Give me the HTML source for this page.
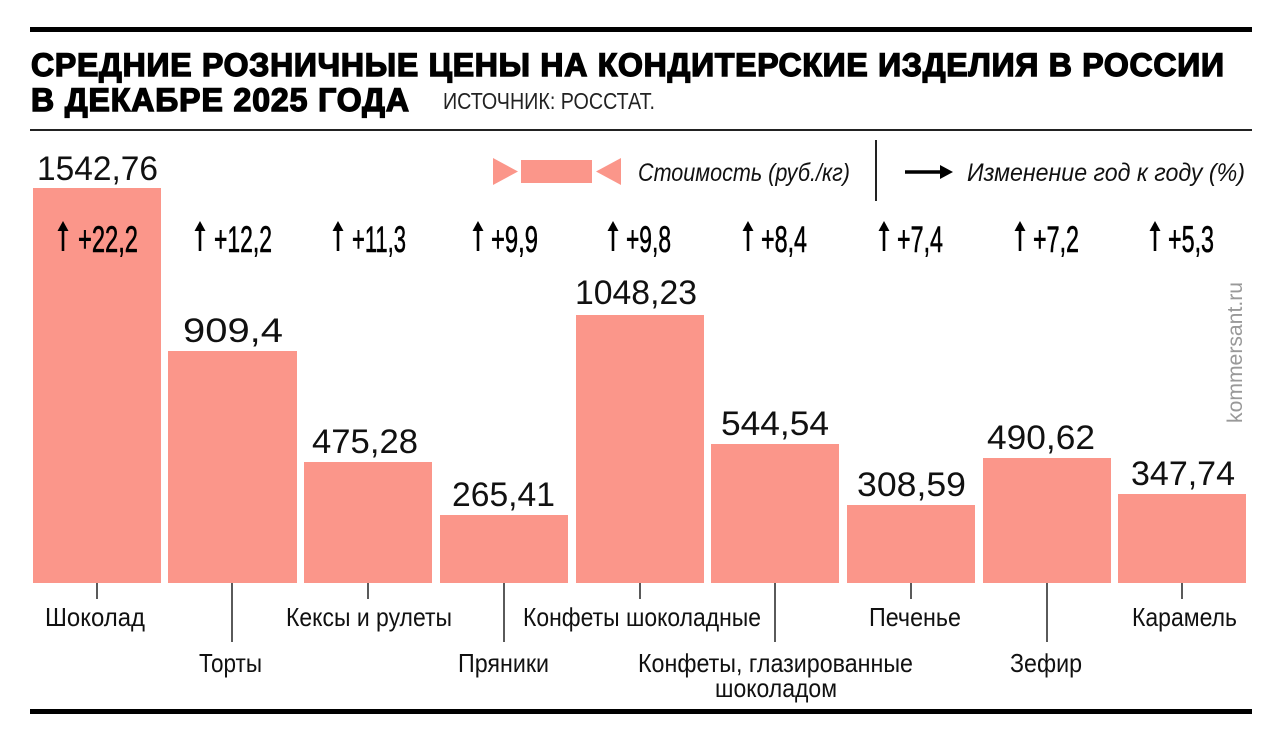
<!DOCTYPE html>
<html><head><meta charset="utf-8"><style>
html,body{margin:0;padding:0;background:#fff;}
svg{display:block}
.n{font-family:"Liberation Sans Narrow","Liberation Sans",sans-serif;}
.s{font-family:"Liberation Sans",sans-serif;}
</style></head><body>
<svg width="1280" height="742" viewBox="0 0 1280 742" xmlns="http://www.w3.org/2000/svg">
<rect x="30" y="27" width="1222" height="5" fill="#000"/>
<text class="s" x="31" y="76" font-size="32" font-weight="bold" stroke="#000" stroke-width="1.4" textLength="1193" lengthAdjust="spacing">СРЕДНИЕ РОЗНИЧНЫЕ ЦЕНЫ НА КОНДИТЕРСКИЕ ИЗДЕЛИЯ В РОССИИ</text>
<text class="s" x="31" y="111" font-size="32" font-weight="bold" stroke="#000" stroke-width="1.4" textLength="378" lengthAdjust="spacing">В ДЕКАБРЕ 2025 ГОДА</text>
<text class="n" x="443" y="109" font-size="23" fill="#222" textLength="212" lengthAdjust="spacingAndGlyphs">ИСТОЧНИК: РОССТАТ.</text>
<rect x="30" y="129" width="1222" height="2" fill="#222"/>

<polygon points="493,158 518,171.5 493,185" fill="#fb968a"/>
<rect x="521" y="160" width="71" height="23" fill="#fb968a"/>
<polygon points="621,158 596,171.5 621,185" fill="#fb968a"/>
<text class="n" x="638" y="181" font-size="25" font-style="italic" fill="#111" textLength="212" lengthAdjust="spacingAndGlyphs">Стоимость (руб./кг)</text>
<rect x="875" y="140" width="2" height="61" fill="#222"/>
<line x1="905" y1="172" x2="944" y2="172" stroke="#000" stroke-width="3.5"/>
<polygon points="940,165 953,172 940,179" fill="#000"/>
<text class="n" x="967" y="181" font-size="25" font-style="italic" fill="#111" textLength="278" lengthAdjust="spacingAndGlyphs">Изменение год к году (%)</text>

<g fill="#fb968a">
<rect x="33" y="188" width="128" height="395"/>
<rect x="168" y="351" width="129" height="232"/>
<rect x="304" y="462" width="128" height="121"/>
<rect x="440" y="515" width="128" height="68"/>
<rect x="576" y="315" width="128" height="268"/>
<rect x="711" y="444" width="128" height="139"/>
<rect x="847" y="505" width="128" height="78"/>
<rect x="983" y="458" width="128" height="125"/>
<rect x="1118" y="494" width="128" height="89"/>
</g>

<g class="s" font-size="34" fill="#111">
<text x="37" y="180" textLength="121" lengthAdjust="spacingAndGlyphs">1542,76</text>
<text x="183" y="342" textLength="100" lengthAdjust="spacingAndGlyphs">909,4</text>
<text x="312" y="453" textLength="106" lengthAdjust="spacingAndGlyphs">475,28</text>
<text x="452" y="506" textLength="103" lengthAdjust="spacingAndGlyphs">265,41</text>
<text x="575" y="304" textLength="122" lengthAdjust="spacingAndGlyphs">1048,23</text>
<text x="721" y="435" textLength="108" lengthAdjust="spacingAndGlyphs">544,54</text>
<text x="857" y="496" textLength="109" lengthAdjust="spacingAndGlyphs">308,59</text>
<text x="987" y="449" textLength="108" lengthAdjust="spacingAndGlyphs">490,62</text>
<text x="1131" y="485" textLength="104" lengthAdjust="spacingAndGlyphs">347,74</text>
</g>

<g stroke="#000" stroke-width="2.6" fill="#000">
<line x1="63" y1="226" x2="63" y2="251"/>
<line x1="200" y1="226" x2="200" y2="251"/>
<line x1="338" y1="226" x2="338" y2="251"/>
<line x1="478" y1="226" x2="478" y2="251"/>
<line x1="613" y1="226" x2="613" y2="251"/>
<line x1="748" y1="226" x2="748" y2="251"/>
<line x1="884" y1="226" x2="884" y2="251"/>
<line x1="1020" y1="226" x2="1020" y2="251"/>
<line x1="1155" y1="226" x2="1155" y2="251"/>
</g>
<g fill="#000">
<polygon points="63,221 57.5,231 68.5,231"/>
<polygon points="200,221 194.5,231 205.5,231"/>
<polygon points="338,221 332.5,231 343.5,231"/>
<polygon points="478,221 472.5,231 483.5,231"/>
<polygon points="613,221 607.5,231 618.5,231"/>
<polygon points="748,221 742.5,231 753.5,231"/>
<polygon points="884,221 878.5,231 889.5,231"/>
<polygon points="1020,221 1014.5,231 1025.5,231"/>
<polygon points="1155,221 1149.5,231 1160.5,231"/>
</g>
<g class="n" font-size="37" fill="#000" stroke="#000" stroke-width="0.6">
<text x="78" y="252" textLength="60" lengthAdjust="spacingAndGlyphs">+22,2</text>
<text x="214" y="252" textLength="58" lengthAdjust="spacingAndGlyphs">+12,2</text>
<text x="352" y="252" textLength="54" lengthAdjust="spacingAndGlyphs">+11,3</text>
<text x="491" y="252" textLength="47" lengthAdjust="spacingAndGlyphs">+9,9</text>
<text x="626" y="252" textLength="45" lengthAdjust="spacingAndGlyphs">+9,8</text>
<text x="761" y="252" textLength="46" lengthAdjust="spacingAndGlyphs">+8,4</text>
<text x="897" y="252" textLength="46" lengthAdjust="spacingAndGlyphs">+7,4</text>
<text x="1033" y="252" textLength="46" lengthAdjust="spacingAndGlyphs">+7,2</text>
<text x="1168" y="252" textLength="46" lengthAdjust="spacingAndGlyphs">+5,3</text>
</g>

<text class="s" transform="translate(1242,423) rotate(-90)" font-size="21" fill="#999" textLength="141" lengthAdjust="spacingAndGlyphs">kommersant.ru</text>

<g stroke="#222" stroke-width="1.5">
<line x1="97" y1="583" x2="97" y2="599"/>
<line x1="232" y1="583" x2="232" y2="642"/>
<line x1="368" y1="583" x2="368" y2="599"/>
<line x1="504" y1="583" x2="504" y2="642"/>
<line x1="640" y1="583" x2="640" y2="599"/>
<line x1="775" y1="583" x2="775" y2="642"/>
<line x1="911" y1="583" x2="911" y2="599"/>
<line x1="1047" y1="583" x2="1047" y2="642"/>
<line x1="1182" y1="583" x2="1182" y2="599"/>
</g>

<g class="n" font-size="26" fill="#111">
<text x="45" y="626" textLength="100" lengthAdjust="spacingAndGlyphs">Шоколад</text>
<text x="286" y="626" textLength="166" lengthAdjust="spacingAndGlyphs">Кексы и рулеты</text>
<text x="523" y="626" textLength="238" lengthAdjust="spacingAndGlyphs">Конфеты шоколадные</text>
<text x="869" y="626" textLength="92" lengthAdjust="spacingAndGlyphs">Печенье</text>
<text x="1132" y="626" textLength="105" lengthAdjust="spacingAndGlyphs">Карамель</text>
<text x="199" y="672" textLength="63" lengthAdjust="spacingAndGlyphs">Торты</text>
<text x="458" y="672" textLength="91" lengthAdjust="spacingAndGlyphs">Пряники</text>
<text x="638" y="672" textLength="275" lengthAdjust="spacingAndGlyphs">Конфеты, глазированные</text>
<text x="715" y="697" textLength="122" lengthAdjust="spacingAndGlyphs">шоколадом</text>
<text x="1010" y="672" textLength="72" lengthAdjust="spacingAndGlyphs">Зефир</text>
</g>

<rect x="30" y="709" width="1222" height="5" fill="#000"/>
</svg>
</body></html>
